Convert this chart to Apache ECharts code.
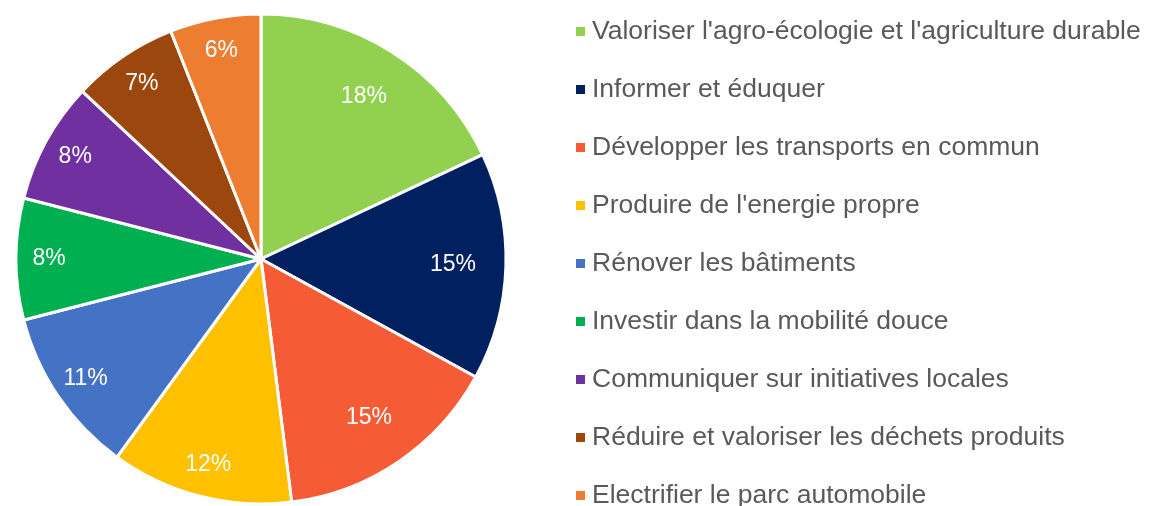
<!DOCTYPE html>
<html>
<head>
<meta charset="utf-8">
<script src="https://cdn.jsdelivr.net/npm/echarts@6/dist/echarts.min.js"></script>
<style>
  html, body { margin: 0; padding: 0; background: #fff; }
  #main { width: 1149px; height: 506px; }
</style>
</head>
<body>
<div id="main"></div>
<script>
  // categories and shares (%)
  var categories = [
    "Valoriser l'agro-écologie et l'agriculture durable",
    "Informer et éduquer",
    "Développer les transports en commun",
    "Produire de l'energie propre",
    "Rénover les bâtiments",
    "Investir dans la mobilité douce",
    "Communiquer sur initiatives locales",
    "Réduire et valoriser les déchets produits",
    "Electrifier le parc automobile"
  ];
  var shares = [18, 15, 15, 12, 11, 8, 8, 7, 6];
  var colors = ['#92D050', '#002060', '#F55B35', '#FFC000', '#4472C4', '#00B050', '#7030A0', '#9C470E', '#ED7D31'];

  var pieData = categories.map(function (name, i) {
    return { name: name, value: shares[i], itemStyle: { color: colors[i] } };
  });

  // transparent ring only used to place the % labels (big slices sit closer to the centre)
  function labelRing(radius, showFn) {
    return {
      type: 'pie',
      center: [261, 259],
      radius: radius,
      startAngle: 90,
      clockwise: true,
      silent: true,
      legendHoverLink: false,
      itemStyle: { color: 'rgba(0,0,0,0)' },
      labelLine: { show: false },
      data: categories.map(function (name, i) {
        return {
          name: name + ' ',
          value: shares[i],
          label: {
            show: showFn(i),
            position: 'inside',
            formatter: '{c}%',
            color: '#fff',
            fontSize: 23,
            fontFamily: 'Liberation Sans, Arial, sans-serif'
          }
        };
      })
    };
  }

  var chart = echarts.init(document.getElementById('main'));
  var option = {
    animation: false,
    legend: {
      orient: 'vertical',
      left: 571,
      top: 13,
      height: 700, // let the last item run past the bottom edge instead of wrapping
      itemWidth: 9,
      itemHeight: 9,
      itemGap: 31,
      icon: 'rect',
      itemStyle: { borderWidth: 0 },
      textStyle: {
        color: '#595959',
        fontFamily: 'Liberation Sans, Arial, sans-serif',
        fontSize: 26.5,
        padding: [0, 0, 0, 2]
      },
      data: categories
    },
    series: [
      {
        type: 'pie',
        center: [261, 259],
        radius: [0, 245],
        startAngle: 90,
        clockwise: true,
        label: { show: false },
        labelLine: { show: false },
        itemStyle: { borderColor: '#fff', borderWidth: 3 },
        data: pieData
      },
      labelRing([133, 245], function (i) { return i < 3; }),
      labelRing([173, 245], function (i) { return i >= 3; })
    ]
  };
  chart.setOption(option);
</script>
</body>
</html>
